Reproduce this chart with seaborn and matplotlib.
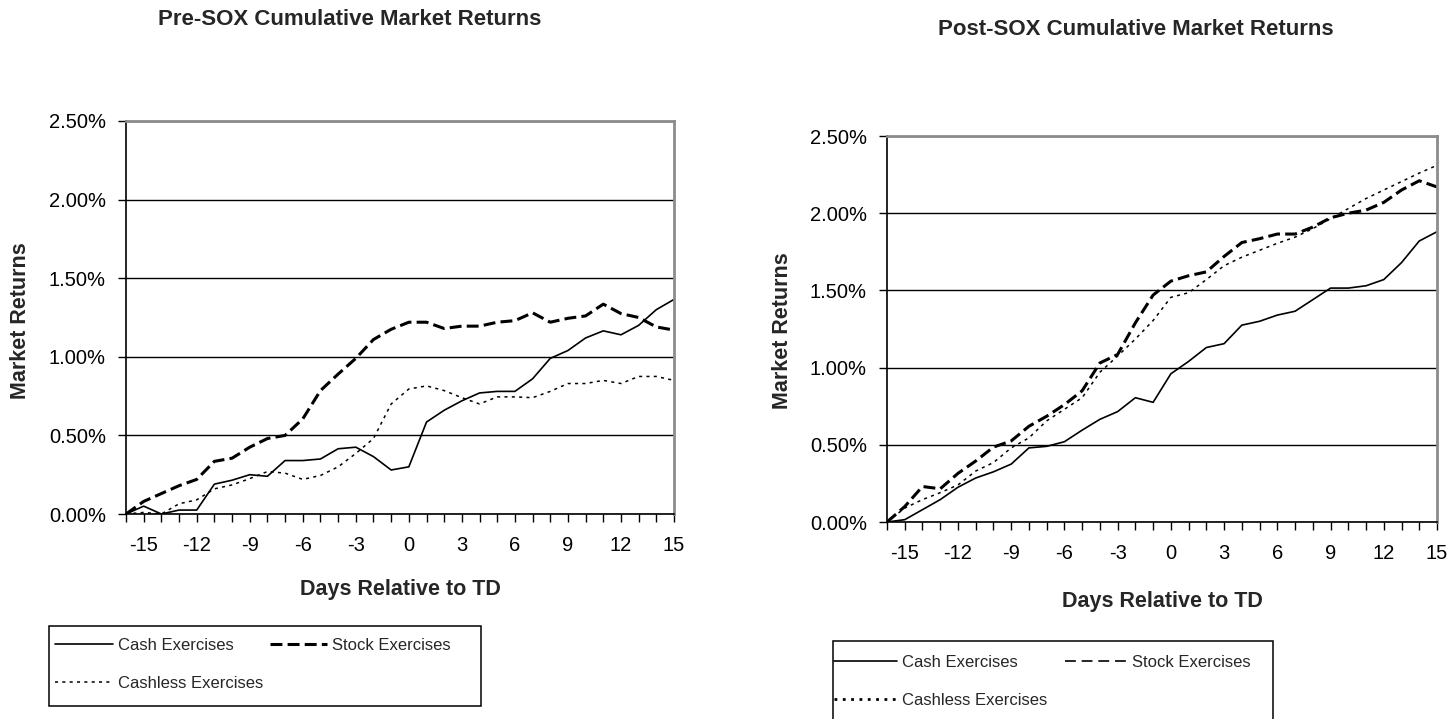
import numpy as np
import matplotlib
matplotlib.use("Agg")
import matplotlib.pyplot as plt
import seaborn as sns
from matplotlib.lines import Line2D
from matplotlib.patches import Rectangle

# ---------------- data (percent) ----------------
days = list(range(-16, 16))
tick_days = list(range(-15, 16, 3))
y_ticks = [0.0, 0.5, 1.0, 1.5, 2.0, 2.5]

pre_cash = [0.00, 0.05, 0.00, 0.025, 0.025, 0.19, 0.215, 0.25, 0.24, 0.34, 0.34, 0.35,
            0.415, 0.425, 0.365, 0.28, 0.30, 0.585, 0.66, 0.72, 0.77, 0.78, 0.78, 0.86,
            0.99, 1.04, 1.12, 1.165, 1.14, 1.20, 1.30, 1.365]
pre_stock = [0.00, 0.08, 0.13, 0.18, 0.22, 0.335, 0.355, 0.425, 0.48, 0.50, 0.605, 0.785,
             0.89, 0.99, 1.11, 1.175, 1.22, 1.22, 1.18, 1.195, 1.195, 1.22, 1.23, 1.28,
             1.22, 1.245, 1.26, 1.335, 1.275, 1.25, 1.19, 1.17]
pre_cashless = [0.00, 0.01, 0.00, 0.065, 0.09, 0.16, 0.185, 0.225, 0.27, 0.26, 0.22, 0.245,
                0.30, 0.385, 0.48, 0.70, 0.795, 0.815, 0.785, 0.74, 0.70, 0.745, 0.745, 0.74,
                0.78, 0.83, 0.83, 0.85, 0.83, 0.875, 0.875, 0.85]

post_cash = [0.00, 0.015, 0.08, 0.145, 0.225, 0.285, 0.325, 0.375, 0.48, 0.49, 0.52, 0.595,
             0.665, 0.715, 0.805, 0.775, 0.96, 1.04, 1.13, 1.155, 1.275, 1.30, 1.34, 1.365,
             1.44, 1.515, 1.515, 1.53, 1.57, 1.68, 1.82, 1.88]
post_stock = [0.00, 0.10, 0.23, 0.215, 0.315, 0.395, 0.485, 0.525, 0.62, 0.685, 0.76, 0.85,
              1.03, 1.085, 1.29, 1.47, 1.56, 1.595, 1.62, 1.72, 1.81, 1.835, 1.865, 1.865,
              1.91, 1.97, 2.00, 2.02, 2.07, 2.15, 2.21, 2.17]
post_cashless = [0.00, 0.09, 0.145, 0.19, 0.24, 0.33, 0.385, 0.48, 0.545, 0.655, 0.73, 0.805,
                 0.97, 1.075, 1.185, 1.305, 1.455, 1.485, 1.57, 1.66, 1.715, 1.76, 1.805, 1.845,
                 1.90, 1.965, 2.03, 2.095, 2.15, 2.205, 2.26, 2.31]

series_names = ["Cash Exercises", "Stock Exercises", "Cashless Exercises"]
titles = ["Pre-SOX Cumulative Market Returns", "Post-SOX Cumulative Market Returns"]
x_label = "Days Relative to TD"
y_label = "Market Returns"

# ---------------- style ----------------
sns.set_style("white")
plt.rcParams["font.family"] = ["Liberation Sans", "DejaVu Sans"]
plt.rcParams["axes.unicode_minus"] = False

W, H = 1450, 719
fig = plt.figure(figsize=(W / 100, H / 100), dpi=100)


def fx(px):
    return px / W


def fy(py):
    return 1 - py / H


def make_axes(l, r, t, b):
    return fig.add_axes([fx(l), fy(b), fx(r) - fx(l), fy(t) - fy(b)])


SOLID = dict(color="black", lw=1.2, linestyle="-")
BOLD_DASH = dict(color="black", lw=2.2, linestyle=(0, (3.9, 1.7)))
THIN_DOT = dict(color="black", lw=1.1, linestyle=(0, (2.0, 2.8)))
THIN_DASH = dict(color="black", lw=1.2, linestyle=(0, (6.5, 3.5)))
BOLD_DOT = dict(color="black", lw=2.0, linestyle=(0, (1.0, 2.0)))

TICK_SIZE = 14.5
LEGEND_SIZE = 12


def draw_panel(ax, cash, stock, cashless, stock_kw, cashless_kw):
    sns.lineplot(x=days, y=cash, ax=ax, **SOLID)
    sns.lineplot(x=days, y=stock, ax=ax, **stock_kw)
    sns.lineplot(x=days, y=cashless, ax=ax, **cashless_kw)
    ax.set_xlim(-16, 15)
    ax.set_ylim(0, 2.5)
    ax.set_xticks(tick_days)
    ax.set_xticks(days, minor=True)
    ax.set_yticks(y_ticks)
    ax.set_yticklabels([f"{v:.2f}%" for v in y_ticks])
    ax.tick_params(axis="x", which="both", bottom=True, direction="out", length=6,
                   width=1, color="black")
    ax.tick_params(axis="x", which="major", labelsize=TICK_SIZE, pad=10, labelcolor="black")
    ax.tick_params(axis="y", which="major", left=True, direction="out", length=6,
                   width=1, color="black", labelsize=TICK_SIZE, pad=8.5, labelcolor="black")
    ax.set_axisbelow(True)
    ax.yaxis.grid(True, color="black", lw=1)
    ax.xaxis.grid(False)
    for s in ["left", "bottom"]:
        ax.spines[s].set_color("black")
        ax.spines[s].set_linewidth(1.2)
    for s in ["top", "right"]:
        ax.spines[s].set_color("#8c8c8c")
        ax.spines[s].set_linewidth(2)
    ax.set_xlabel("")
    ax.set_ylabel("")
    if ax.get_legend():
        ax.get_legend().remove()


ax1 = make_axes(126, 674, 121, 514)
draw_panel(ax1, pre_cash, pre_stock, pre_cashless, BOLD_DASH, THIN_DOT)
ax2 = make_axes(887, 1437, 136, 522)
draw_panel(ax2, post_cash, post_stock, post_cashless, BOLD_DASH, THIN_DOT)

# titles and axis labels
fig.text(fx(350), fy(25), titles[0], ha="center", va="baseline", fontsize=16, weight="bold")
fig.text(fx(1136), fy(35), titles[1], ha="center", va="baseline", fontsize=16, weight="bold")
fig.text(fx(400), fy(595), x_label, ha="center", va="baseline", fontsize=15.5, weight="bold")
fig.text(fx(1162), fy(607), x_label, ha="center", va="baseline", fontsize=15.5, weight="bold")
fig.text(fx(21), fy(321), y_label, ha="center", va="center", rotation=90, fontsize=15.5, weight="bold")
fig.text(fx(782), fy(331), y_label, ha="center", va="center", rotation=90, fontsize=15.5, weight="bold")


# legends
def add_legend(box, anchor, stock_kw, cashless_kw, colspace, hlen):
    l, r, t, b = box
    fig.add_artist(Rectangle((fx(l), fy(b)), fx(r) - fx(l), fy(t) - fy(b),
                             transform=fig.transFigure, fill=False, ec="black", lw=1.1))
    handles = [Line2D([], [], **SOLID), Line2D([], [], **cashless_kw), Line2D([], [], **stock_kw)]
    labels = [series_names[0], series_names[2], series_names[1]]
    fig.legend(handles, labels, loc="upper left", bbox_to_anchor=(fx(anchor[0]), fy(anchor[1])),
               ncol=2, frameon=False, handlelength=hlen, handletextpad=0.3,
               columnspacing=colspace, labelspacing=1.38, borderpad=0.0, borderaxespad=0.0,
               prop={"family": ["Liberation Sans"], "size": LEGEND_SIZE})


add_legend((49, 481, 626, 706), (55, 638), BOLD_DASH, THIN_DOT, 0.42, 3.45)
add_legend((833, 1273, 641, 740), (834, 655), THIN_DASH, BOLD_DOT, 1.08, 3.75)

fig.savefig("out.png", dpi=100)
